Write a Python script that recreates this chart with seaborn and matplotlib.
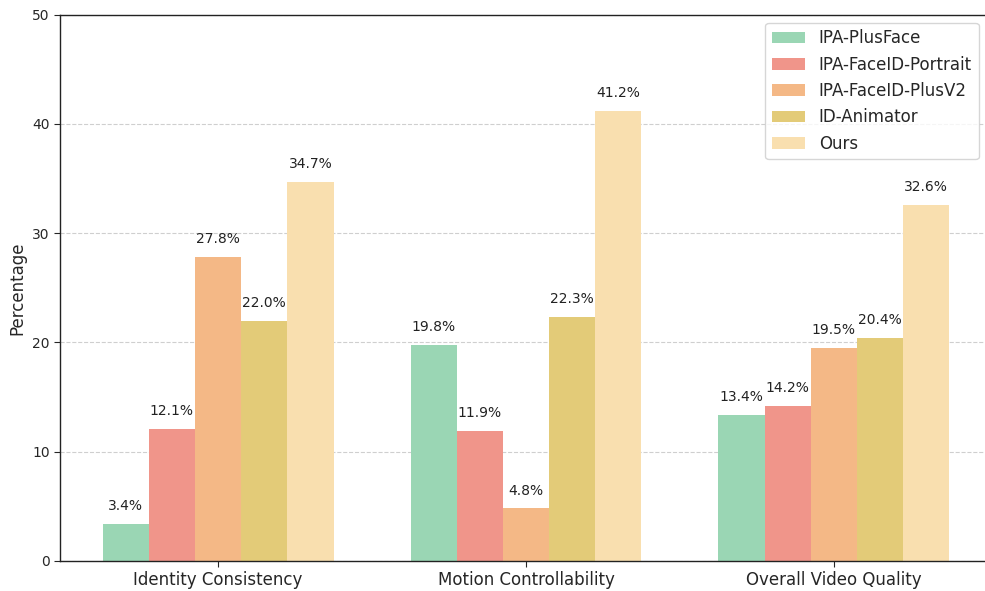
import matplotlib
matplotlib.use("Agg")
import matplotlib.pyplot as plt
import seaborn as sns
import pandas as pd

categories = ["Identity Consistency", "Motion Controllability", "Overall Video Quality"]
methods = ["IPA-PlusFace", "IPA-FaceID-Portrait", "IPA-FaceID-PlusV2", "ID-Animator", "Ours"]
values = {
    "IPA-PlusFace": [3.4, 19.8, 13.4],
    "IPA-FaceID-Portrait": [12.1, 11.9, 14.2],
    "IPA-FaceID-PlusV2": [27.8, 4.8, 19.5],
    "ID-Animator": [22.0, 22.3, 20.4],
    "Ours": [34.7, 41.2, 32.6],
}
colors = ["#9AD6B4", "#F0958A", "#F4B886", "#E3CB78", "#F9DFAF"]

rows = []
for m in methods:
    for c, v in zip(categories, values[m]):
        rows.append({"Category": c, "Method": m, "Percentage": v})
df = pd.DataFrame(rows)

sns.set_style("white")
plt.rcParams['font.family'] = ['DejaVu Sans']

fig = plt.figure(figsize=(9.85, 5.91), dpi=100)
ax = fig.add_axes([0.061, 0.051, 0.946, 0.924])

sns.barplot(data=df, x="Category", y="Percentage", hue="Method",
            hue_order=methods, order=categories, palette=colors,
            width=0.75, saturation=1, ax=ax, edgecolor="none", linewidth=0)

for container in ax.containers:
    for bar in container:
        h = bar.get_height()
        ax.text(bar.get_x() + bar.get_width() / 2, h + 1.0, f"{h:.1f}%",
                ha="center", va="bottom", fontsize=10, color="#222222")

ax.set_ylim(0, 50)
ax.set_xlim(-0.513, 2.513)
ax.set_yticks([0, 10, 20, 30, 40, 50])
ax.yaxis.grid(True, linestyle="--", color="#bbbbbb", alpha=0.7, linewidth=0.8)
ax.set_axisbelow(True)
ax.set_xlabel("")
ax.set_ylabel("Percentage", fontsize=12)
ax.tick_params(axis="x", labelsize=12, length=4, width=0.8, direction="out", bottom=True)
ax.tick_params(axis="y", labelsize=10, length=4, width=0.8, direction="out", left=True)
for s in ["left", "bottom", "top"]:
    ax.spines[s].set_color("#222222")
    ax.spines[s].set_linewidth(1.0)
ax.spines["right"].set_visible(False)

leg = ax.legend(loc="upper right", fontsize=12, frameon=True, title=None,
                bbox_to_anchor=(0.991, 0.995), borderaxespad=0.3)

fig.savefig("out.png", dpi=100)
